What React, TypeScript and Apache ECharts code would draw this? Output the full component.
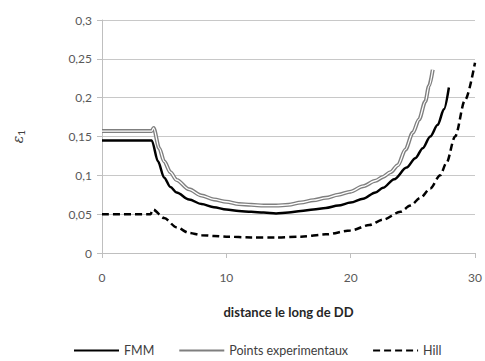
import React, { useEffect, useRef } from "react";
import * as echarts from "echarts";

const fmm: [number, number][] = [
  [0, 0.145], [4, 0.145], [4.5, 0.118], [5, 0.097], [5.5, 0.085], [6, 0.078], [7, 0.069], [8, 0.063],
  [9, 0.059], [10, 0.056], [11, 0.054], [12, 0.053], [13, 0.052], [14, 0.051], [15, 0.052], [16, 0.054],
  [17, 0.056], [18, 0.058], [19, 0.061], [20, 0.065], [21, 0.070], [22, 0.078], [22.6, 0.084],
  [23.5, 0.095], [24.5, 0.110], [25.2, 0.122], [25.8, 0.135], [26.4, 0.150], [27, 0.165],
  [27.5, 0.185], [27.9, 0.213],
];

const experimental: [number, number][] = [
  [0, 0.157], [4, 0.157], [4.15, 0.161], [4.6, 0.135], [5, 0.118], [5.5, 0.104], [6, 0.094],
  [7, 0.082], [8, 0.074], [9, 0.069], [10, 0.066], [11, 0.063], [12, 0.062], [13, 0.061], [14, 0.061],
  [15, 0.062], [16, 0.065], [17, 0.068], [18, 0.071], [19, 0.075], [20, 0.079], [21, 0.086],
  [22, 0.093], [22.6, 0.098], [23.2, 0.104], [23.8, 0.113], [24.4, 0.133], [25, 0.155],
  [25.5, 0.172], [26, 0.195], [26.3, 0.215], [26.6, 0.236],
];

const hill: [number, number][] = [
  [0, 0.05], [3.9, 0.05], [4.1, 0.056], [5, 0.045], [6, 0.033], [7, 0.026], [8, 0.023], [9, 0.022],
  [10, 0.021], [12, 0.020], [14, 0.020], [16, 0.021], [18, 0.024], [20, 0.029], [21.5, 0.036],
  [22.6, 0.043], [24, 0.053], [24.8, 0.061], [25.6, 0.071], [26.4, 0.083], [27.2, 0.100],
  [27.7, 0.116], [28.4, 0.150], [29.2, 0.197], [30, 0.245],
];

const seriesNames = ["FMM", "Points experimentaux", "Hill"];
const xTitle = "distance le long de DD";

export default function App() {
  const ref = useRef<HTMLDivElement>(null);
  useEffect(() => {
    if (!ref.current) return;
    const chart = echarts.init(ref.current, undefined, { renderer: "svg" });
    const font = "Lato, 'Open Sans', sans-serif";
    chart.setOption({
      animation: false,
      backgroundColor: "#ffffff",
      textStyle: { fontFamily: font },
      grid: { left: 102, right: 10, top: 20, bottom: 108, containLabel: false },
      legend: {
        data: seriesNames,
        left: 68,
        top: 339,
        itemWidth: 45,
        itemHeight: 10,
        itemGap: 24,
        itemStyle: { opacity: 0 },
        textStyle: { fontFamily: font, fontSize: 12.5, color: "#404040" },
      },
      xAxis: {
        type: "value",
        min: 0,
        max: 30,
        interval: 10,
        name: xTitle,
        nameLocation: "middle",
        nameGap: 52,
        nameTextStyle: { fontFamily: font, fontSize: 13, fontWeight: "bold", color: "#262626" },
        axisLine: { show: true, lineStyle: { color: "#bfbfbf", width: 1 } },
        axisTick: { show: true, length: 5, lineStyle: { color: "#bfbfbf" } },
        axisLabel: { margin: 18, fontSize: 12, color: "#595959", fontFamily: font },
        splitLine: { show: false },
      },
      yAxis: {
        type: "value",
        min: 0,
        max: 0.3,
        interval: 0.05,
        name: "{e|ε}{s|1}",
        nameLocation: "middle",
        nameGap: 76,
        nameTextStyle: {
          color: "#404040",
          rich: {
            e: { fontFamily: "'DejaVu Serif', serif", fontStyle: "italic", fontSize: 14, color: "#404040" },
            s: { fontFamily: font, fontSize: 10, color: "#404040", verticalAlign: "bottom", padding: [6, 0, 0, 0] },
          },
        },
        axisLine: { show: true, lineStyle: { color: "#bfbfbf", width: 1 } },
        axisTick: { show: true, length: 5, lineStyle: { color: "#bfbfbf" } },
        axisLabel: {
          margin: 10,
          fontSize: 12,
          color: "#595959",
          fontFamily: font,
          formatter: (v: number) => String(Math.round(v * 100) / 100).replace(".", ","),
        },
        splitLine: { show: true, lineStyle: { color: "#c8c8c8", width: 1 } },
      },
      series: [
        {
          name: "FMM",
          type: "line",
          data: fmm,
          symbol: "none",
          smooth: 0.3,
          smoothMonotone: "x",
          lineStyle: { color: "#000000", width: 2.5 },
          itemStyle: { color: "#000000" },
          z: 3,
        },
        {
          name: "Points experimentaux",
          type: "line",
          data: experimental,
          symbol: "none",
          smooth: 0.3,
          smoothMonotone: "x",
          lineStyle: { color: "#7f7f7f", width: 4 },
          itemStyle: { color: "#7f7f7f" },
          z: 3,
        },
        {
          name: "_expInner",
          type: "line",
          data: experimental,
          symbol: "none",
          smooth: 0.3,
          smoothMonotone: "x",
          lineStyle: { color: "#ffffff", width: 1.3 },
          itemStyle: { color: "#ffffff" },
          z: 4,
        },
        {
          name: "Hill",
          type: "line",
          data: hill,
          symbol: "none",
          smooth: 0.3,
          smoothMonotone: "x",
          lineStyle: { color: "#000000", width: 2.5, type: [7, 4] },
          itemStyle: { color: "#000000" },
          z: 3,
        },
      ],
    });
    return () => chart.dispose();
  }, []);
  return (
    <div
      ref={ref}
      style={{ position: "fixed", left: 0, top: 0, width: 485, height: 361 }}
    />
  );
}
